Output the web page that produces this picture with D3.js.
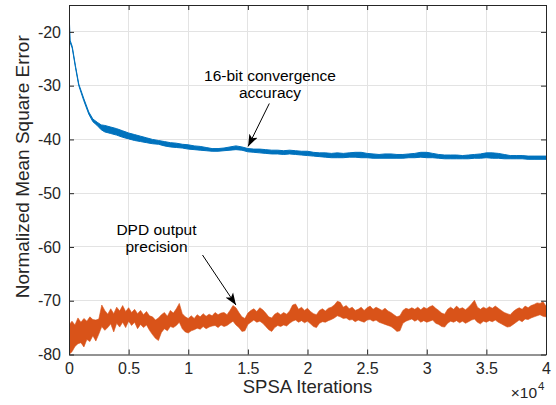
<!DOCTYPE html>
<html><head><meta charset="utf-8">
<script src="https://cdn.jsdelivr.net/npm/d3@7"></script>
<style>
html,body{margin:0;padding:0;background:#fff;}
svg{display:block;font-family:"Liberation Sans",Arial,Helvetica,sans-serif;}
</style></head>
<body><svg id="chart" width="556" height="405"></svg>
<script>
// x in units of 1e4 SPSA iterations
const xTicks = [0, 0.5, 1, 1.5, 2, 2.5, 3, 3.5, 4];
const yTicks = [-80, -70, -60, -50, -40, -30, -20];
const xLabel = "SPSA Iterations";
const yLabel = "Normalized Mean Square Error";

// 16-bit convergence accuracy (blue) – band upper / lower envelope
const blueIter = [0,0.01,0.027,0.054,0.082,0.124,0.166,0.2,0.236,0.27,0.3,0.35,0.4,0.45,0.5,0.55,0.6,0.65,0.7,0.75,0.8,0.85,0.9,0.95,1.0,1.05,1.1,1.15,1.2,1.25,1.3,1.35,1.4,1.45,1.5,1.55,1.6,1.65,1.7,1.75,1.8,1.85,1.9,1.95,2.0,2.05,2.1,2.15,2.2,2.25,2.3,2.35,2.4,2.45,2.5,2.55,2.6,2.65,2.7,2.75,2.8,2.85,2.9,2.95,3.0,3.05,3.1,3.15,3.2,3.25,3.3,3.35,3.4,3.45,3.5,3.55,3.6,3.65,3.7,3.75,3.8,3.85,3.9,3.95,4.0];
const blueHi = [-16.3,-21.6,-22.7,-26.3,-29.7,-32.4,-34.9,-36.2,-36.8,-37.3,-37.4,-37.7,-38.0,-38.4,-38.8,-39.1,-39.4,-39.7,-40.0,-40.2,-40.4,-40.6,-40.7,-40.9,-41.0,-41.2,-41.3,-41.5,-41.7,-41.7,-41.6,-41.4,-41.2,-41.4,-41.7,-41.8,-41.8,-41.9,-42.0,-42.0,-42.1,-42.0,-42.1,-42.2,-42.2,-42.4,-42.5,-42.5,-42.6,-42.5,-42.6,-42.5,-42.4,-42.4,-42.6,-42.7,-42.8,-42.7,-42.7,-42.8,-42.8,-42.7,-42.6,-42.4,-42.4,-42.6,-42.8,-42.9,-42.9,-42.9,-43.0,-42.9,-42.8,-42.7,-42.5,-42.5,-42.6,-42.8,-43.0,-43.0,-43.0,-43.1,-43.1,-43.1,-43.1];
const blueLo = [-21.0,-22.0,-23.0,-26.6,-30.0,-32.8,-35.3,-36.7,-37.4,-38.2,-38.6,-38.9,-39.2,-39.6,-39.9,-40.2,-40.4,-40.6,-40.8,-40.9,-41.2,-41.4,-41.5,-41.6,-41.8,-41.9,-42.0,-42.1,-42.2,-42.2,-42.1,-42.0,-41.9,-42.0,-42.3,-42.4,-42.5,-42.6,-42.7,-42.7,-42.8,-42.7,-42.8,-42.9,-43.0,-43.1,-43.2,-43.3,-43.4,-43.4,-43.4,-43.3,-43.3,-43.4,-43.4,-43.5,-43.5,-43.5,-43.5,-43.5,-43.5,-43.4,-43.4,-43.3,-43.4,-43.4,-43.5,-43.6,-43.6,-43.6,-43.6,-43.6,-43.5,-43.5,-43.4,-43.5,-43.5,-43.6,-43.6,-43.6,-43.6,-43.7,-43.7,-43.7,-43.7];

// DPD output precision (orange) – band upper / lower envelope every 250 iterations
const orangeHi = [-74.5,-73.8,-74.5,-73.2,-74.0,-73.3,-73.8,-73.0,-73.5,-73.6,-73.4,-70.8,-71.8,-72.5,-71.5,-72.4,-71.2,-71.9,-70.9,-72.0,-71.3,-72.2,-71.6,-72.4,-71.8,-72.6,-72.0,-72.8,-73.0,-73.6,-73.2,-72.6,-72.2,-72.9,-71.8,-72.3,-71.5,-70.5,-72.4,-73.0,-73.3,-72.8,-73.3,-72.6,-73.0,-72.4,-72.9,-72.5,-72.8,-72.2,-72.6,-72.3,-72.2,-72.6,-71.8,-70.9,-71.3,-72.2,-73.0,-73.3,-72.3,-71.8,-71.5,-72.0,-71.3,-71.7,-72.3,-73.0,-73.2,-72.5,-72.2,-72.6,-72.2,-72.5,-71.9,-70.8,-70.6,-71.6,-71.2,-71.8,-71.4,-72.0,-72.4,-72.6,-71.8,-71.5,-71.9,-71.4,-71.2,-70.8,-70.1,-70.3,-71.2,-70.9,-71.5,-71.2,-71.8,-71.6,-71.2,-71.8,-71.3,-71.0,-71.6,-71.2,-71.5,-71.8,-71.4,-71.9,-72.2,-72.6,-73.0,-72.8,-71.8,-71.4,-71.6,-71.3,-71.6,-71.2,-71.7,-71.2,-71.5,-71.1,-70.9,-71.4,-71.8,-72.3,-72.5,-71.6,-71.2,-71.6,-71.0,-71.5,-71.3,-71.7,-71.2,-70.6,-69.9,-71.2,-71.6,-71.2,-71.5,-71.1,-71.4,-71.0,-71.4,-71.8,-72.2,-72.4,-72.6,-72.0,-71.6,-71.3,-71.6,-71.0,-71.3,-70.9,-70.7,-70.4,-70.5,-70.2,-71.0];
const orangeLo = [-80.0,-79.5,-78.5,-78.0,-77.8,-78.6,-77.2,-77.6,-76.5,-77.5,-76.2,-74.8,-75.5,-75.0,-74.3,-75.8,-74.2,-74.9,-74.0,-75.0,-73.8,-74.6,-74.0,-75.2,-74.4,-75.0,-74.5,-75.5,-76.3,-77.0,-77.4,-75.9,-75.2,-75.6,-74.8,-75.0,-74.6,-74.0,-75.2,-75.8,-76.0,-75.6,-75.4,-75.1,-75.3,-74.8,-75.2,-74.9,-74.7,-74.6,-75.0,-74.5,-74.8,-74.6,-74.2,-73.8,-74.5,-75.0,-75.7,-75.6,-74.4,-74.0,-73.6,-74.0,-73.8,-74.2,-74.8,-75.4,-75.7,-75.0,-74.6,-74.8,-74.5,-74.7,-74.2,-73.8,-73.6,-74.0,-73.7,-74.1,-73.8,-74.3,-74.8,-75.0,-74.2,-73.9,-74.0,-73.7,-73.5,-73.2,-72.8,-73.0,-73.3,-73.2,-73.6,-73.5,-73.9,-73.6,-73.8,-74.0,-73.6,-73.5,-73.8,-73.6,-74.0,-74.2,-74.4,-74.6,-74.8,-75.2,-75.7,-75.6,-74.2,-73.8,-73.6,-73.4,-73.8,-73.5,-74.0,-73.7,-74.0,-73.8,-73.6,-74.2,-74.4,-74.8,-74.9,-74.2,-73.8,-74.0,-73.7,-74.1,-73.8,-74.2,-73.9,-73.6,-73.4,-74.0,-74.3,-73.8,-74.0,-73.7,-73.9,-73.6,-74.0,-74.3,-74.6,-74.9,-74.8,-74.4,-74.0,-73.6,-73.9,-73.4,-73.5,-73.2,-73.0,-72.8,-72.6,-72.9,-73.0];
const orangeIter = orangeHi.map((_, i) => i * 0.025);

const annotations = [
  {lines: ["16-bit convergence", "accuracy"], tx: 270, ty: 80.8},
  {lines: ["DPD output", "precision"], tx: 156.5, ty: 234.5}
];

const W = 556, H = 405;
const m = {left: 69, right: 10, top: 5, bottom: 50.5};
const svg = d3.select("#chart");
const x = d3.scaleLinear().domain([0, 4]).range([m.left, W - m.right]);
const y = d3.scaleLinear().domain([-80, -15]).range([H - m.bottom, m.top]);
const axisCol = "#262626";
const FONT = "'Liberation Sans',Arial,Helvetica,sans-serif";

// grid
const g = svg.append("g");
g.selectAll(".gx").data(xTicks.slice(1, -1)).join("line")
  .attr("x1", d => x(d)).attr("x2", d => x(d)).attr("y1", y(-80)).attr("y2", y(-15))
  .attr("stroke", "#e3e3e3").attr("stroke-width", 1).attr("shape-rendering", "crispEdges");
g.selectAll(".gy").data(yTicks.slice(1)).join("line")
  .attr("x1", x(0)).attr("x2", x(4)).attr("y1", d => y(d)).attr("y2", d => y(d))
  .attr("stroke", "#e3e3e3").attr("stroke-width", 1).attr("shape-rendering", "crispEdges");

svg.append("clipPath").attr("id", "clip").append("rect")
  .attr("x", x(0)).attr("y", y(-15)).attr("width", x(4) - x(0)).attr("height", y(-80) - y(-15));

const plot = svg.append("g").attr("clip-path", "url(#clip)");
const blueData = blueIter.map((v, i) => ({x: v, hi: blueHi[i], lo: blueLo[i]}));
const orangeData = orangeIter.map((v, i) => ({x: v, hi: orangeHi[i], lo: orangeLo[i]}));
const area = d3.area().x(d => x(d.x)).y0(d => y(d.lo)).y1(d => y(d.hi));

plot.append("path").datum(blueData).attr("d", area)
  .attr("fill", "#0072BD").attr("stroke", "#0072BD").attr("stroke-width", 1);
plot.append("path").datum(orangeData).attr("d", area)
  .attr("fill", "#D95319").attr("stroke", "#D95319").attr("stroke-width", 0.6);

// axes (box with inward ticks)
const tickLen = 5;
const fmt = d => String(d);
const xAxB = d3.axisBottom(x).tickValues(xTicks).tickSizeInner(-tickLen).tickSizeOuter(0).tickPadding(8).tickFormat(fmt);
const xAxT = d3.axisTop(x).tickValues(xTicks).tickSizeInner(-tickLen).tickSizeOuter(0).tickFormat("");
const yAxL = d3.axisLeft(y).tickValues(yTicks).tickSizeInner(-tickLen).tickSizeOuter(0).tickPadding(8).tickFormat(fmt);
const yAxR = d3.axisRight(y).tickValues(yTicks).tickSizeInner(-tickLen).tickSizeOuter(0).tickFormat("");

function style(sel) {
  sel.select(".domain").attr("stroke", axisCol).attr("stroke-width", 1);
  sel.selectAll(".tick line").attr("stroke", axisCol).attr("stroke-width", 1);
  sel.selectAll(".tick text").attr("fill", axisCol).style("font-size", "16px").style("font-family", FONT);
}
svg.append("g").attr("transform", `translate(0,${y(-80)})`).call(xAxB).call(style);
svg.append("g").attr("transform", `translate(0,${y(-15)})`).call(xAxT).call(style);
svg.append("g").attr("transform", `translate(${x(0)},0)`).call(yAxL).call(style);
svg.append("g").attr("transform", `translate(${x(4)},0)`).call(yAxR).call(style);

// axis labels
svg.append("text").attr("x", (x(0) + x(4)) / 2).attr("y", 393).attr("text-anchor", "middle")
  .attr("fill", axisCol).style("font-size", "18.5px").text(xLabel);
svg.append("text").attr("transform", `translate(29,${(y(-80) + y(-15)) / 2 - 13}) rotate(-90)`)
  .attr("text-anchor", "middle").attr("fill", axisCol).style("font-size", "19px").text(yLabel);

// x10^4 exponent
svg.append("text").attr("x", 537).attr("y", 398).attr("text-anchor", "end")
  .attr("fill", axisCol).style("font-size", "15.5px").text("\u00d710");
svg.append("text").attr("x", 538).attr("y", 390).attr("fill", axisCol).style("font-size", "11.5px").text("4");

// annotations
svg.append("defs").append("marker").attr("id", "ah").attr("viewBox", "0 0 10 10")
  .attr("refX", 10).attr("refY", 5).attr("markerWidth", 12).attr("markerHeight", 12)
  .attr("markerUnits", "userSpaceOnUse").attr("orient", "auto")
  .append("path").attr("d", "M0,1.2 L10,5 L0,8.8 L2.5,5 Z").attr("fill", "#000");

const arrows = [
  {x1: 269.3, y1: 103.5, x2: x(1.502), y2: y(-41.3)},
  {x1: 202.5, y1: 255, x2: x(1.4), y2: y(-70.8)}
];
annotations.forEach((a, i) => {
  a.lines.forEach((l, j) => svg.append("text").attr("text-anchor", "middle").attr("fill", "#000")
    .style("font-size", "15.5px").attr("x", a.tx).attr("y", a.ty + j * 17.3).text(l));
  const ar = arrows[i];
  svg.append("line").attr("x1", ar.x1).attr("y1", ar.y1).attr("x2", ar.x2).attr("y2", ar.y2)
    .attr("stroke", "#000").attr("stroke-width", 1).attr("marker-end", "url(#ah)");
});
</script></body></html>
